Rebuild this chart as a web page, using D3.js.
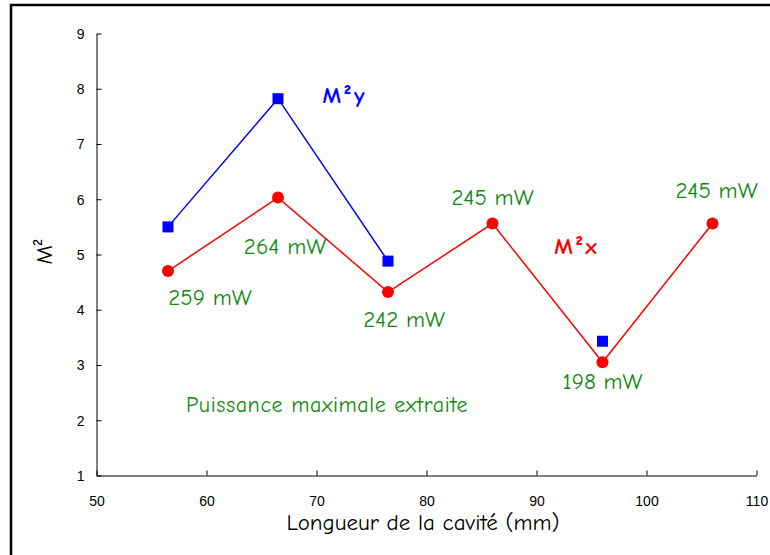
<!DOCTYPE html>
<html><head><meta charset="utf-8">
<script src="https://cdn.jsdelivr.net/npm/d3@7"></script>
<style>
html,body{margin:0;padding:0;background:#fff;}
svg{display:block;}
</style></head>
<body>
<svg id="chart" width="770" height="555"></svg>
<script>
// ---- data ----
const lengths = [56.5, 66.5, 76.5, 86, 96, 106];
const m2x = [4.70, 6.03, 4.32, 5.56, 3.05, 5.56];
const m2y = [5.50, 7.82, 4.88, null, 3.43, null];
const powerLabels = ["259 mW", "264 mW", "242 mW", "245 mW", "198 mW", "245 mW"];
const xTicks = [50, 60, 70, 80, 90, 100, 110];
const yTicks = [1, 2, 3, 4, 5, 6, 7, 8, 9];

// ---- layout / style ----
const labelOffsets = [[42, 26], [7, 48], [16, 27], [0, -27], [0, 19], [4, -34]];
const handFont = "'Comic Sans MS', 'Comic Neue', 'Open Sans', sans-serif";
const tickFont = "'Liberation Sans', Arial, sans-serif";
const svg = d3.select("#chart");

// frame
svg.append("rect").attr("x", 11).attr("y", 5).attr("width", 800).attr("height", 600)
  .attr("fill", "none").attr("stroke", "#000").attr("stroke-width", 2.5);

const x = d3.scaleLinear().domain([50, 110]).range([96.5, 756.5]);
const y = d3.scaleLinear().domain([1, 9]).range([475.5, 33.5]);

// axes
const xAxis = d3.axisBottom(x).tickValues(xTicks).tickSizeInner(-5).tickSizeOuter(0).tickPadding(0).tickFormat(d3.format("d"));
const gx = svg.append("g").attr("transform", `translate(0,${y(1)})`).call(xAxis);
gx.select(".domain").attr("stroke", "#000");
gx.selectAll(".tick line").attr("stroke", "#000");
gx.selectAll(".tick text").attr("y", 0).attr("dy", "0").attr("transform", "translate(0,30)")
  .style("font-family", tickFont).style("font-size", "14px").attr("fill", "#000");

const yAxis = d3.axisLeft(y).tickValues(yTicks).tickSizeInner(-5).tickSizeOuter(0).tickPadding(0);
const gy = svg.append("g").attr("transform", `translate(${x(50)},0)`).call(yAxis);
gy.select(".domain").attr("stroke", "#000");
gy.selectAll(".tick line").attr("stroke", "#000");
gy.selectAll(".tick text").attr("x", -12).attr("dy", "0.35em")
  .style("font-family", tickFont).style("font-size", "14px").attr("fill", "#000");

// axis titles
svg.append("text").attr("x", 423).attr("y", 530).attr("text-anchor", "middle")
  .style("font-family", handFont).style("font-size", "23px").style("font-weight", "500")
  .text("Longueur de la cavité  (mm)");
svg.append("text").attr("transform", "translate(52,252) rotate(-90)").attr("text-anchor", "middle")
  .style("font-family", handFont).style("font-size", "23px").style("font-weight", "500").text("M²");

// series
const ptsX = lengths.map((d, i) => ({x: d, y: m2x[i]}));
const ptsY = lengths.map((d, i) => ({x: d, y: m2y[i]}));
const line = d3.line().defined(d => d.y !== null).x(d => x(d.x)).y(d => y(d.y));

svg.append("path").datum(ptsY).attr("d", line).attr("fill", "none").attr("stroke", "#0000ff").attr("stroke-width", 1.5);
svg.append("path").datum(ptsX).attr("d", line).attr("fill", "none").attr("stroke", "#ff0000").attr("stroke-width", 1.5);

svg.selectAll("rect.sq").data(ptsY.filter(d => d.y !== null)).enter().append("rect").attr("class", "sq")
  .attr("x", d => x(d.x) - 5.5).attr("y", d => y(d.y) - 5.5).attr("width", 11).attr("height", 11).attr("fill", "#0000ff");
svg.selectAll("circle.pt").data(ptsX).enter().append("circle").attr("class", "pt")
  .attr("cx", d => x(d.x)).attr("cy", d => y(d.y)).attr("r", 6).attr("fill", "#ff0000");

// power labels
svg.selectAll("text.pw").data(ptsX).enter().append("text").attr("class", "pw")
  .attr("x", (d, i) => x(d.x) + labelOffsets[i][0])
  .attr("y", (d, i) => y(d.y) + labelOffsets[i][1])
  .attr("dy", "0.35em").attr("text-anchor", "middle")
  .style("font-family", handFont).style("font-size", "23px").style("font-weight", "500").attr("fill", "#118811")
  .text((d, i) => powerLabels[i]);

// series names
svg.append("text").attr("x", 345).attr("y", 95).attr("dy", "0.35em").attr("text-anchor", "middle")
  .style("font-family", handFont).style("font-size", "23px").style("font-weight", "bold")
  .style("letter-spacing", "3px").attr("fill", "#0000ff").text("M²y");
svg.append("text").attr("x", 577).attr("y", 246).attr("dy", "0.35em").attr("text-anchor", "middle")
  .style("font-family", handFont).style("font-size", "23px").style("font-weight", "bold")
  .style("letter-spacing", "3px").attr("fill", "#ff0000").text("M²x");

svg.append("text").attr("x", 327).attr("y", 404).attr("dy", "0.35em").attr("text-anchor", "middle")
  .style("font-family", handFont).style("font-size", "22px").style("font-weight", "500")
  .style("letter-spacing", "0.6px").attr("fill", "#118811").text("Puissance maximale extraite");
</script>
</body></html>
